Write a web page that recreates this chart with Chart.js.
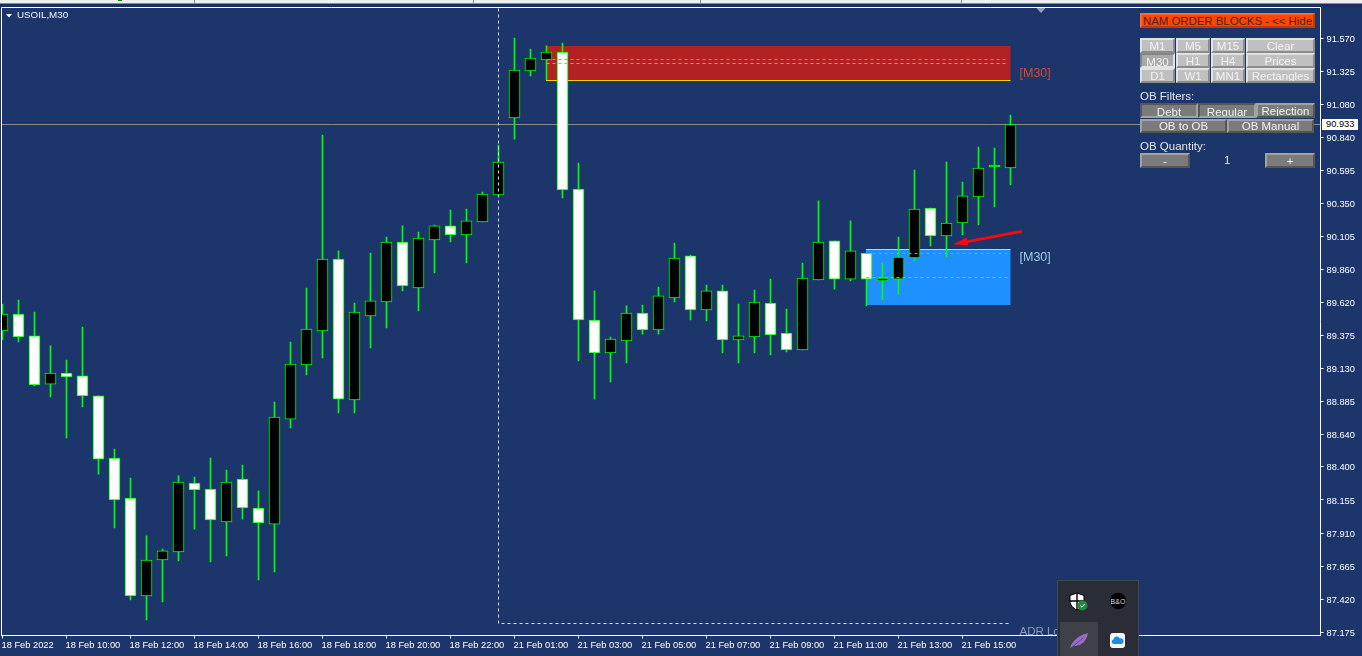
<!DOCTYPE html>
<html>
<head>
<meta charset="utf-8">
<title>USOIL,M30</title>
<script src="https://cdn.jsdelivr.net/npm/chart.js@4"></script>
<style>
  html, body { margin: 0; padding: 0; width: 1362px; height: 656px; overflow: hidden; background: #1c356b; }
  canvas { position: absolute; left: 0; top: 0; }
  #topbar { position: absolute; left: 0; top: 0; width: 1362px; height: 7px; background: #1a2f5f; }
  #strip { height: 3px; background: #f0f0f0; border-bottom: 1px solid #8a8a8a; }
  .sep { position: absolute; top: 0; width: 1px; height: 3px; background: #8a8a8a; }
  .txt { position: absolute; font: 11.5px "Liberation Sans", sans-serif; color: #e6e6e6; white-space: nowrap; }
  .btn { position: absolute; box-sizing: border-box; overflow: hidden; text-align: center; white-space: nowrap;
         font: 11.5px "Liberation Sans", sans-serif; border: 2px solid; }
  .light { background: #c0c0c0; color: #f2f2f2; border-color: #e2e2e2 #8c8c8c #8c8c8c #e2e2e2; line-height: 13px; }
  .light.down { background: #a9a9a9; border-color: #858585 #e2e2e2 #e2e2e2 #858585; line-height: 15px; }
  .dark { background: #7b7b7b; color: #f2f2f2; border-color: #a2a2a2 #565656 #565656 #a2a2a2; line-height: 10px; }
  .dark.down { border-color: #565656 #a2a2a2 #a2a2a2 #565656; line-height: 14px; }
  #price { position: absolute; left: 1322px; top: 119px; width: 36px; height: 11px; background: #fff; color: #000;
           font: 9.3px/11px "Liberation Sans", sans-serif; text-indent: 4px; }
  #flyout { position: absolute; left: 1057px; top: 580px; width: 80px; height: 76px; background: #2a2d35;
            border: 1px solid #414753; border-bottom: 0; }
  #flycell { position: absolute; left: 2px; top: 41px; width: 38px; height: 35px; background: #3e4148; }
  #flyout svg { position: absolute; }
</style>
</head>
<body>
<canvas id="chart" width="1362" height="656"></canvas>
<div id="topbar">
  <div id="strip"></div>
  <div class="sep" style="left:194px"></div>
  <div class="sep" style="left:473px"></div>
  <div class="sep" style="left:700px"></div>
  <div class="sep" style="left:961px"></div>
  <div class="sep" style="left:118px;width:4px;height:1px;background:#0a8a0a"></div>
</div>

<div class="btn" style="left:1140px;top:13px;width:175px;height:15px;background:#ff4500;color:#3a2a20;border-color:#ff6a30 #c83600 #c83600 #ff6a30;font-size:11.4px;line-height:13px">NAM ORDER BLOCKS - &lt;&lt; Hide</div>

<div class="btn light" style="left:1140px;top:38px;width:35px;height:15px">M1</div>
<div class="btn light" style="left:1176px;top:38px;width:34px;height:15px">M5</div>
<div class="btn light" style="left:1211px;top:38px;width:34px;height:15px">M15</div>
<div class="btn light" style="left:1246px;top:38px;width:69px;height:15px">Clear</div>
<div class="btn light down" style="left:1140px;top:53px;width:35px;height:15px">M30</div>
<div class="btn light" style="left:1176px;top:53px;width:34px;height:15px">H1</div>
<div class="btn light" style="left:1211px;top:53px;width:34px;height:15px">H4</div>
<div class="btn light" style="left:1246px;top:53px;width:69px;height:15px">Prices</div>
<div class="btn light" style="left:1140px;top:68px;width:35px;height:15px">D1</div>
<div class="btn light" style="left:1176px;top:68px;width:34px;height:15px">W1</div>
<div class="btn light" style="left:1211px;top:68px;width:34px;height:15px">MN1</div>
<div class="btn light" style="left:1246px;top:68px;width:69px;height:15px">Rectangles</div>

<div class="txt" style="left:1140px;top:90px">OB Filters:</div>
<div class="btn dark down" style="left:1140px;top:103px;width:58px;height:15px">Debt</div>
<div class="btn dark down" style="left:1198px;top:103px;width:58px;height:15px">Regular</div>
<div class="btn dark" style="left:1256px;top:103px;width:59px;height:15px;line-height:12px">Rejection</div>
<div class="btn dark" style="left:1140px;top:119px;width:87px;height:14px">OB to OB</div>
<div class="btn dark" style="left:1227px;top:119px;width:87px;height:14px">OB Manual</div>

<div class="txt" style="left:1140px;top:140px">OB Quantity:</div>
<div class="btn dark" style="left:1140px;top:153px;width:50px;height:15px;line-height:12px">-</div>
<div class="txt" style="left:1224px;top:154px">1</div>
<div class="btn dark" style="left:1265px;top:153px;width:50px;height:15px;line-height:12px">+</div>

<div id="price">90.933</div>

<div id="flyout">
  <div id="flycell"></div>
  <svg style="left:11px;top:11px" width="20" height="20" viewBox="0 0 20 20">
    <path d="M8 1 L15 3.5 V9 C15 13 12 16 8 18 C4 16 1 13 1 9 V3.5 Z" fill="#fff" stroke="#000" stroke-width="1"/>
    <path d="M8 1 V18 M1 9 H15" stroke="#000" stroke-width="1.4"/>
    <circle cx="13.5" cy="13.5" r="5" fill="#1e8a44"/>
    <path d="M11.3 13.5 L13 15.2 L15.8 12" stroke="#fff" stroke-width="1" fill="none"/>
  </svg>
  <svg style="left:51px;top:11px" width="18" height="18" viewBox="0 0 18 18">
    <circle cx="9" cy="9" r="8.2" fill="#000"/>
    <text x="9" y="11.5" text-anchor="middle" font-family="Liberation Sans" font-size="7" fill="#ddd">B&amp;O</text>
  </svg>
  <svg style="left:10px;top:50px" width="22" height="20" viewBox="0 0 22 20">
    <path d="M2 17 C4 10 11 4 20 2 C19 9 14 15 6 15 Z" fill="#9a6bc6"/>
    <path d="M2 18 L15 7" stroke="#5a3a80" stroke-width="0.8"/>
  </svg>
  <svg style="left:52px;top:52px" width="15" height="15" viewBox="0 0 15 15">
    <rect x="0" y="0" width="15" height="15" rx="3" fill="#f4f8fc"/>
    <path d="M3.5 11 A2.3 2.3 0 0 1 3.4 6.5 A3.4 3.4 0 0 1 9.8 5.4 A2.8 2.8 0 0 1 11.5 11 Z" fill="#1c8fe0"/>
  </svg>
</div>

<script>
// 30 minute bars of USOIL
const opens = [
  89.406, 89.531, 89.369, 89.013, 89.095, 89.073, 88.925, 88.466, 88.170, 87.445, 87.711, 87.770, 88.281, 88.236, 87.992, 88.310,
  88.096, 87.977, 88.754, 89.154, 89.406, 89.938, 88.895, 89.517, 89.620, 90.064, 89.724, 90.079, 90.183, 90.116, 90.212, 90.412,
  90.982, 91.330, 91.411, 91.470, 90.456, 89.487, 89.243, 89.332, 89.539, 89.413, 89.650, 89.961, 89.561, 89.702, 89.339, 89.361,
  89.613, 89.391, 89.265, 89.783, 90.072, 89.790, 89.983, 89.776, 89.790, 89.946, 90.316, 90.109, 90.205, 90.397, 90.619, 90.612
];
const closes = [
  89.531, 89.361, 89.006, 89.095, 89.065, 88.925, 88.458, 88.155, 87.445, 87.711, 87.778, 88.288, 88.229, 88.007, 88.288, 88.096,
  87.985, 88.769, 89.161, 89.420, 89.938, 88.902, 89.546, 89.628, 90.064, 89.739, 90.094, 90.183, 90.116, 90.220, 90.419, 90.656,
  91.337, 91.426, 91.470, 90.449, 89.487, 89.243, 89.346, 89.539, 89.413, 89.665, 89.946, 89.561, 89.702, 89.339, 89.369, 89.620,
  89.376, 89.265, 89.798, 90.064, 89.790, 89.998, 89.790, 89.798, 89.953, 90.308, 90.109, 90.205, 90.405, 90.612, 90.634, 90.933
];
const highs = [
  89.605, 89.635, 89.546, 89.295, 89.191, 89.435, 88.925, 88.532, 88.318, 87.889, 87.792, 88.333, 88.325, 88.466, 88.377, 88.414,
  88.222, 88.880, 89.324, 89.724, 90.856, 89.998, 89.613, 89.983, 90.101, 90.183, 90.138, 90.190, 90.301, 90.308, 90.434, 90.782,
  91.574, 91.492, 91.515, 91.537, 90.649, 89.702, 89.361, 89.591, 89.598, 89.731, 90.057, 89.968, 89.746, 89.746, 89.605, 89.709,
  89.790, 89.568, 89.909, 90.368, 90.072, 90.220, 89.983, 89.909, 90.101, 90.597, 90.316, 90.656, 90.508, 90.767, 90.760, 91.004
];
const lows = [
  89.339, 89.324, 88.999, 88.917, 88.614, 88.843, 88.347, 87.948, 87.415, 87.267, 87.400, 87.704, 87.940, 87.696, 87.741, 88.014,
  87.563, 87.622, 88.688, 89.080, 89.206, 88.799, 88.799, 89.280, 89.428, 89.702, 89.554, 89.835, 90.064, 89.909, 90.212, 90.412,
  90.826, 91.293, 91.263, 90.390, 89.184, 88.902, 89.028, 89.169, 89.383, 89.383, 89.620, 89.487, 89.480, 89.243, 89.169, 89.243,
  89.228, 89.250, 89.265, 89.783, 89.716, 89.776, 89.591, 89.635, 89.679, 89.924, 90.035, 89.953, 90.116, 90.190, 90.323, 90.486
];

const xTickBars = [0, 4, 8, 12, 16, 20, 24, 28, 32, 36, 40, 44, 48, 52, 56, 60];
const xTickLabels = [
  '18 Feb 2022', '18 Feb 10:00', '18 Feb 12:00', '18 Feb 14:00', '18 Feb 16:00', '18 Feb 18:00', '18 Feb 20:00', '18 Feb 22:00',
  '21 Feb 01:00', '21 Feb 03:00', '21 Feb 05:00', '21 Feb 07:00', '21 Feb 09:00', '21 Feb 11:00', '21 Feb 13:00', '21 Feb 15:00'
];
const yTicks = [
  91.570, 91.325, 91.080, 90.840, 90.595, 90.350, 90.105, 89.860, 89.620, 89.375,
  89.130, 88.885, 88.640, 88.400, 88.155, 87.910, 87.665, 87.420, 87.175
];

const lastPrice = 90.933;
const verticalBar = 31;
const adrLow = 87.241;
// order blocks: first bar, last bar, top, bottom, then the two dashed levels
const redBlock = [34, 63, 91.515, 91.259, 91.416, 91.387];
const blueBlock = [54, 63, 90.012, 89.598, 89.980, 89.802];
// arrow, tail then tip, in bars and price
const arrowBars = [63.7, 59.39];
const arrowPrices = [90.143, 90.047];

const FONT = '"Liberation Sans", sans-serif';
const barIndex = opens.map((_, i) => i);
// up bars are black, down bars white, a doji is only its green outline
const bodyColors = opens.map((o, i) => {
  if (Math.abs(closes[i] - o) < 0.02) return '#00ff00';
  return closes[i] >= o ? '#000000' : '#ffffff';
});

const overlay = {
  id: 'overlay',
  beforeDatasetsDraw(chart) {
    const { ctx, scales: { x, y }, chartArea: a } = chart;
    ctx.save();
    ctx.beginPath();
    ctx.rect(a.left, a.top, a.width, a.height);
    ctx.clip();
    ctx.strokeStyle = '#8c8c8c';
    ctx.lineWidth = 1;
    hline(ctx, a.left, a.right, Math.floor(y.getPixelForValue(lastPrice)) + 0.5);
    block(ctx, x, y, redBlock, '#b22222', '#ffd700');
    block(ctx, x, y, blueBlock, '#1e90ff', '#e0d880');
    ctx.restore();
  },
  afterDatasetsDraw(chart) {
    const { ctx, scales: { x, y }, chartArea: a } = chart;
    ctx.save();
    ctx.lineWidth = 1;
    ctx.setLineDash([3, 3]);
    dashes(ctx, x, y, redBlock, '#33dd33', '#ff9a1e');
    dashes(ctx, x, y, blueBlock, '#33dd33', '#e0a030');

    // session line and ADR low
    ctx.strokeStyle = '#dcdcdc';
    const vx = x.getPixelForValue(verticalBar);
    const ay = Math.floor(y.getPixelForValue(adrLow)) + 0.5;
    ctx.beginPath();
    ctx.moveTo(vx, a.top + 1);
    ctx.lineTo(vx, ay);
    ctx.lineTo(x.getPixelForValue(63), ay);
    ctx.stroke();
    ctx.setLineDash([]);

    // red arrow
    const x0 = x.getPixelForValue(arrowBars[0]), y0 = y.getPixelForValue(arrowPrices[0]);
    const x1 = x.getPixelForValue(arrowBars[1]), y1 = y.getPixelForValue(arrowPrices[1]);
    const ang = Math.atan2(y1 - y0, x1 - x0);
    ctx.strokeStyle = ctx.fillStyle = '#fa0a0a';
    ctx.lineWidth = 3;
    ctx.beginPath();
    ctx.moveTo(x0, y0);
    ctx.lineTo(x1 - 12 * Math.cos(ang), y1 - 12 * Math.sin(ang));
    ctx.stroke();
    ctx.beginPath();
    ctx.moveTo(x1, y1);
    ctx.lineTo(x1 - 15 * Math.cos(ang) - 4 * Math.sin(ang), y1 - 15 * Math.sin(ang) + 4 * Math.cos(ang));
    ctx.lineTo(x1 - 15 * Math.cos(ang) + 4 * Math.sin(ang), y1 - 15 * Math.sin(ang) - 4 * Math.cos(ang));
    ctx.closePath();
    ctx.fill();

    // labels on the chart
    ctx.textBaseline = 'middle';
    ctx.font = '12.5px ' + FONT;
    ctx.fillStyle = '#d8492c';
    ctx.fillText('[M30]', 1019.5, 73.5);
    ctx.fillStyle = '#9ccbe6';
    ctx.fillText('[M30]', 1019.5, 257.5);
    ctx.font = '11.5px ' + FONT;
    ctx.fillStyle = '#8e9bbd';
    ctx.fillText('ADR Low', 1019.5, 631.5);
    ctx.font = '9.8px ' + FONT;
    ctx.fillStyle = '#eef4ff';
    ctx.fillText('USOIL,M30', 17, 15.5);

    // little triangles
    ctx.fillStyle = '#ffffff';
    triangle(ctx, 6, 14, 6, 3.5);
    ctx.fillStyle = '#8fa0b8';
    triangle(ctx, 1036, 7.5, 10, 5.5);

    // frame
    ctx.strokeStyle = '#ffffff';
    ctx.lineWidth = 1;
    ctx.beginPath();
    ctx.moveTo(a.left, a.bottom);
    ctx.lineTo(a.left, a.top);
    ctx.lineTo(a.right, a.top);
    ctx.stroke();
    ctx.restore();
  }
};

function hline(ctx, x0, x1, yy) {
  ctx.beginPath();
  ctx.moveTo(x0, yy);
  ctx.lineTo(x1, yy);
  ctx.stroke();
}

function block(ctx, x, y, b, fill, edge) {
  const left = x.getPixelForValue(b[0]) - 0.5;
  const right = x.getPixelForValue(b[1]);
  const top = y.getPixelForValue(b[2]);
  const bottom = y.getPixelForValue(b[3]);
  ctx.fillStyle = fill;
  ctx.fillRect(left, top, right - left, bottom - top);
  ctx.strokeStyle = edge;
  ctx.lineWidth = 1;
  hline(ctx, left, right, Math.floor(b === redBlock ? bottom : top) + 0.5);
}

function dashes(ctx, x, y, b, upper, lower) {
  const left = x.getPixelForValue(b[0]);
  const right = x.getPixelForValue(b[1]) - 2;
  ctx.strokeStyle = upper;
  hline(ctx, left, right, Math.floor(y.getPixelForValue(b[4])) + 0.5);
  ctx.strokeStyle = lower;
  hline(ctx, left, right, Math.floor(y.getPixelForValue(b[5])) + 0.5);
}

function triangle(ctx, left, top, w, h) {
  ctx.beginPath();
  ctx.moveTo(left, top);
  ctx.lineTo(left + w, top);
  ctx.lineTo(left + w / 2, top + h);
  ctx.closePath();
  ctx.fill();
}

new Chart(document.getElementById('chart').getContext('2d'), {
  type: 'bar',
  data: {
    datasets: [
      {
        label: 'Body',
        order: 1,
        data: barIndex.map(i => ({ x: i, y: [opens[i], closes[i]] })),
        backgroundColor: bodyColors,
        borderColor: '#00ff00',
        borderWidth: 1,
        borderSkipped: false,
        barThickness: 11
      },
      {
        label: 'Wick',
        order: 2,
        data: barIndex.map(i => ({ x: i, y: [lows[i], highs[i]] })),
        backgroundColor: '#00ff00',
        borderWidth: 0,
        barThickness: 1
      }
    ]
  },
  options: {
    responsive: false,
    animation: false,
    devicePixelRatio: 1,
    layout: { padding: { left: 1.5, top: 7.5, right: 0, bottom: 0 } },
    datasets: { bar: { grouped: false } },
    plugins: { legend: { display: false }, tooltip: { enabled: false } },
    scales: {
      x: {
        type: 'linear',
        offset: false,
        min: -0.0625,
        max: 82.375,
        afterFit(scale) { scale.height = 20.5; },
        afterBuildTicks(scale) { scale.ticks = xTickBars.map(v => ({ value: v })); },
        border: { color: '#ffffff' },
        grid: { offset: false, drawOnChartArea: false, color: '#ffffff', tickLength: 3 },
        ticks: {
          autoSkip: false,
          maxRotation: 0,
          align: 'start',
          labelOffset: -1,
          padding: 1,
          color: '#ffffff',
          font: { family: FONT, size: 9.3 },
          callback: v => xTickLabels[xTickBars.indexOf(v)]
        }
      },
      y: {
        position: 'right',
        min: 87.1523,
        max: 91.7995,
        afterFit(scale) {
          scale.width = 41.5;
          // label overhang would push the plot area down
          scale.paddingTop = 0;
          scale.paddingBottom = 0;
        },
        afterBuildTicks(scale) { scale.ticks = yTicks.map(v => ({ value: v })); },
        border: { color: '#ffffff' },
        grid: { drawOnChartArea: false, color: '#ffffff', tickLength: 3 },
        ticks: {
          autoSkip: false,
          padding: 3,
          labelOffset: 1,
          color: '#ffffff',
          font: { family: FONT, size: 9.3 },
          callback: v => v.toFixed(3)
        }
      }
    }
  },
  plugins: [overlay]
});
</script>
</body>
</html>
